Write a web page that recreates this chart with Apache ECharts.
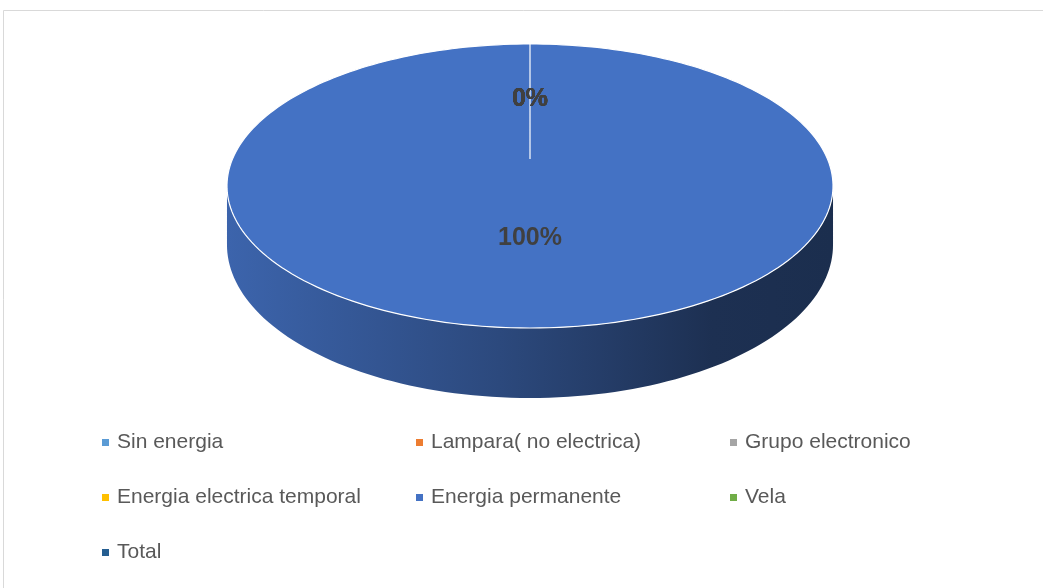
<!DOCTYPE html>
<html>
<head>
<meta charset="utf-8">
<script src="https://cdn.jsdelivr.net/npm/echarts@6/dist/echarts.min.js"></script>
<style>
	html, body { margin: 0; padding: 0; background: #fff; }
	#P1 { width: 1043px; height: 588px; }
</style>
</head>
<body>
<div id="P1"></div>
<script>
// categorias y valores del grafico (solo "Energia permanente" tiene datos)
var categorias = ['Sin energia', 'Lampara( no electrica)', 'Grupo electronico', 'Energia electrica temporal', 'Energia permanente', 'Vela', 'Total'];
var valores = [0, 0, 0, 0, 100, 0, 0];
var colores = ['#5B9BD5', '#ED7D31', '#A5A5A5', '#FFC000', '#4472C4', '#70AD47', '#255E91'];

// pastel 3D hecho a mano (echarts sin gl)
var cx = 530, cy = 159, rx = 297.5, ry = 136.9, persp = 0.19, alto = 56.7;

function proj(t, r, h) {
	var x3 = r * Math.sin(t), z3 = r * Math.cos(t);
	var f = 1 / (1 + persp * z3);
	return [cx + rx * x3 * f, cy - ry * z3 * f + h * alto * f];
}

function oscurecer(hex, k) {
	var n = parseInt(hex.slice(1), 16);
	var r = Math.round(((n >> 16) & 255) * k);
	var g = Math.round(((n >> 8) & 255) * k);
	var b = Math.round((n & 255) * k);
	return 'rgb(' + r + ',' + g + ',' + b + ')';
}

function total() {
	var s = 0;
	for (var i = 0; i < valores.length; i++) s += valores[i];
	return s;
}

function angulos(idx) {
	var tot = total(), acum = 0;
	for (var i = 0; i < idx; i++) acum += valores[i];
	var a0 = acum / tot * Math.PI * 2;
	var a1 = (acum + valores[idx]) / tot * Math.PI * 2;
	return [a0, a1];
}

function arco(a0, a1, h) {
	var pts = [];
	var n = Math.max(2, Math.ceil((a1 - a0) / (Math.PI * 2) * 240));
	for (var k = 0; k <= n; k++) {
		pts.push(proj(a0 + (a1 - a0) * k / n, 1, h));
	}
	return pts;
}

function dibujarPorcion(idx) {
	return function(params, api) {
		var an = angulos(idx);
		var a0 = an[0], a1 = an[1];
		var color = colores[idx];
		var hijos = [];
		if (a1 > a0) {
			// pared lateral visible (frente)
			var v0 = Math.acos(-persp), v1 = Math.PI * 2 - v0;
			var s = Math.max(a0, v0), e = Math.min(a1, v1);
			if (e > s) {
				var arriba = arco(s, e, 0);
				var abajo = arco(s, e, 1).reverse();
				hijos.push({
					type: 'polygon',
					z2: 1,
					shape: { points: arriba.concat(abajo) },
					style: {
						fill: new echarts.graphic.LinearGradient(cx - 303, 0, cx + 303, 0, [
							{ offset: 0, color: oscurecer(color, 0.88) },
							{ offset: 0.45, color: oscurecer(color, 0.64) },
							{ offset: 0.8, color: oscurecer(color, 0.42) },
							{ offset: 1, color: oscurecer(color, 0.4) }
						], true),
						stroke: null
					}
				});
			}
			// cara superior
			var centro = proj(0, 0, 0);
			hijos.push({
				type: 'polygon',
				z2: 10,
				shape: { points: [centro].concat(arco(a0, a1, 0)) },
				style: { fill: color, stroke: '#ffffff', lineWidth: 1.2 }
			});
		}
		// etiqueta de porcentaje
		var medio = (a0 + a1) / 2;
		var p = proj(medio, 0.5, 0);
		hijos.push({
			type: 'text',
			z2: 100,
			x: p[0],
			y: p[1] + 3,
			style: {
				text: Math.round(valores[idx] / total() * 100) + '%',
				fill: '#404040',
				font: 'bold 25px "Liberation Sans", Arial, sans-serif',
				align: 'center',
				verticalAlign: 'middle'
			}
		});
		return { type: 'group', children: hijos };
	};
}

function echartsP1() {
	var myChart = echarts.init(document.getElementById('P1'));
	var series = [];
	for (var i = 0; i < categorias.length; i++) {
		series.push({
			name: categorias[i],
			type: 'custom',
			coordinateSystem: 'none',
			itemStyle: { color: colores[i] },
			renderItem: dibujarPorcion(i),
			data: [valores[i]]
		});
	}
	var option = {
		backgroundColor: '#ffffff',
		animation: false,
		graphic: [{
			type: 'rect',
			silent: true,
			shape: { x: 3.5, y: 10.5, width: 1100, height: 600 },
			style: { fill: null, stroke: '#d9d9d9', lineWidth: 1 }
		}],
		legend: {
			left: 97,
			top: 427,
			width: 960,
			icon: 'rect',
			itemWidth: 7,
			itemHeight: 7,
			itemGap: 34,
			textStyle: {
				color: '#595959',
				fontSize: 21,
				fontFamily: '"Liberation Sans", Arial, sans-serif',
				width: 265,
				lineHeight: 20.5,
				padding: [0, 0, 0, 3]
			},
			data: categorias
		},
		series: series
	};
	myChart.setOption(option);
}

echartsP1();
</script>
</body>
</html>
